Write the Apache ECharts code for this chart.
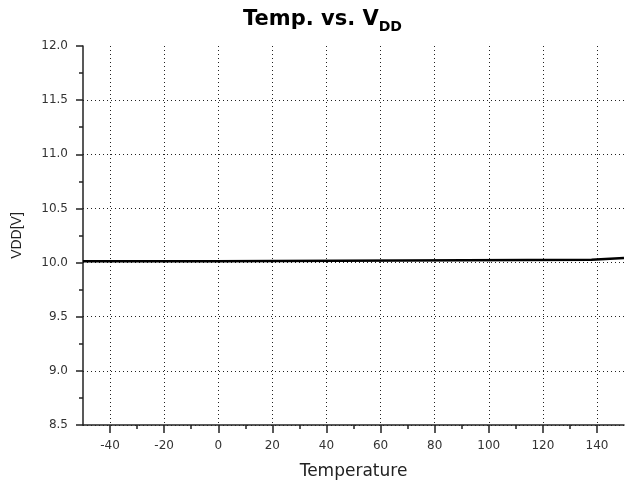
<!DOCTYPE html>
<html>
<head>
<meta charset="utf-8">
<script src="https://cdn.jsdelivr.net/npm/echarts@6/dist/echarts.min.js"></script>
<style>
  html, body { margin: 0; padding: 0; background: #fff; }
  #main { width: 629px; height: 488px; }
</style>
</head>
<body>
<div id="main"></div>
<script>
// step-like VDD trace
var temps = [-50, -2, -2, 138, 138, 150];
var vdd = [10.012, 10.012, 10.025, 10.025, 10.042, 10.042];

var xMajor = [-40, -20, 0, 20, 40, 60, 80, 100, 120, 140];
var xMinor = [-30, -10, 10, 30, 50, 70, 90, 110, 130];

var wide = '"DejaVu Sans", Verdana, sans-serif';
var arial = '"Liberation Sans", Arial, sans-serif';

var chart = echarts.init(document.getElementById('main'));

var pts = [];
for (var i = 0; i < temps.length; i++) {
    pts.push([temps[i], vdd[i]]);
}

var option = {
    backgroundColor: '#fff',
    animation: false,
    title: {
        text: '{a|Temp. vs. V}{b|DD}',
        left: 238,
        top: 4,
        textStyle: {
            rich: {
                a: { fontFamily: wide, fontWeight: 'bold', fontSize: 21, color: '#000', lineHeight: 22, verticalAlign: 'top' },
                b: { fontFamily: wide, fontWeight: 'bold', fontSize: 14, color: '#000', lineHeight: 14, verticalAlign: 'top', padding: [11, 0, 0, 0] }
            }
        }
    },
    grid: { left: 83, right: 5, top: 46, bottom: 63 },
    xAxis: [{
        type: 'value',
        min: -50,
        max: 150,
        name: 'Temperature',
        nameLocation: 'middle',
        nameGap: 38,
        nameTextStyle: { fontFamily: wide, fontSize: 17, color: '#222' },
        axisLine: { onZero: false, lineStyle: { color: '#222', width: 1.5 } },
        axisTick: { customValues: xMajor, length: 8, lineStyle: { color: '#222', width: 1.5 } },
        axisLabel: { customValues: xMajor, fontFamily: wide, fontSize: 12, color: '#333', margin: 15 },
        splitLine: { show: true, lineStyle: { color: '#222', type: [1, 3], width: 1 } }
    }, {
        type: 'value',
        min: -50,
        max: 150,
        position: 'bottom',
        axisLine: { show: false },
        axisTick: { customValues: xMinor, length: 4, lineStyle: { color: '#222', width: 1.5 } },
        axisLabel: { show: false },
        splitLine: { show: false }
    }],
    yAxis: {
        type: 'value',
        min: 8.5,
        max: 12,
        interval: 0.5,
        name: 'VDD[V]',
        nameLocation: 'middle',
        nameGap: 59,
        nameTextStyle: { fontFamily: arial, fontSize: 14, color: '#222' },
        axisLine: { show: true, onZero: false, lineStyle: { color: '#222', width: 1.5 } },
        axisTick: { show: true, length: 7, lineStyle: { color: '#222', width: 1.5 } },
        minorTick: { show: true, splitNumber: 2, length: 4, lineStyle: { color: '#222', width: 1.5 } },
        axisLabel: {
            fontFamily: wide, fontSize: 12, color: '#333', margin: 15,
            formatter: function (v) { return v.toFixed(1); }
        },
        splitLine: {
            show: true,
            lineStyle: {
                color: ['#222', '#222', '#222', '#222', '#222', '#222', '#222', 'rgba(0,0,0,0)'],
                type: [1, 3],
                width: 1
            }
        }
    },
    series: [{
        type: 'line',
        xAxisIndex: 0,
        data: pts,
        showSymbol: false,
        lineStyle: { color: '#000', width: 2.5 },
        z: 5
    }]
};

chart.setOption(option);
</script>
</body>
</html>
